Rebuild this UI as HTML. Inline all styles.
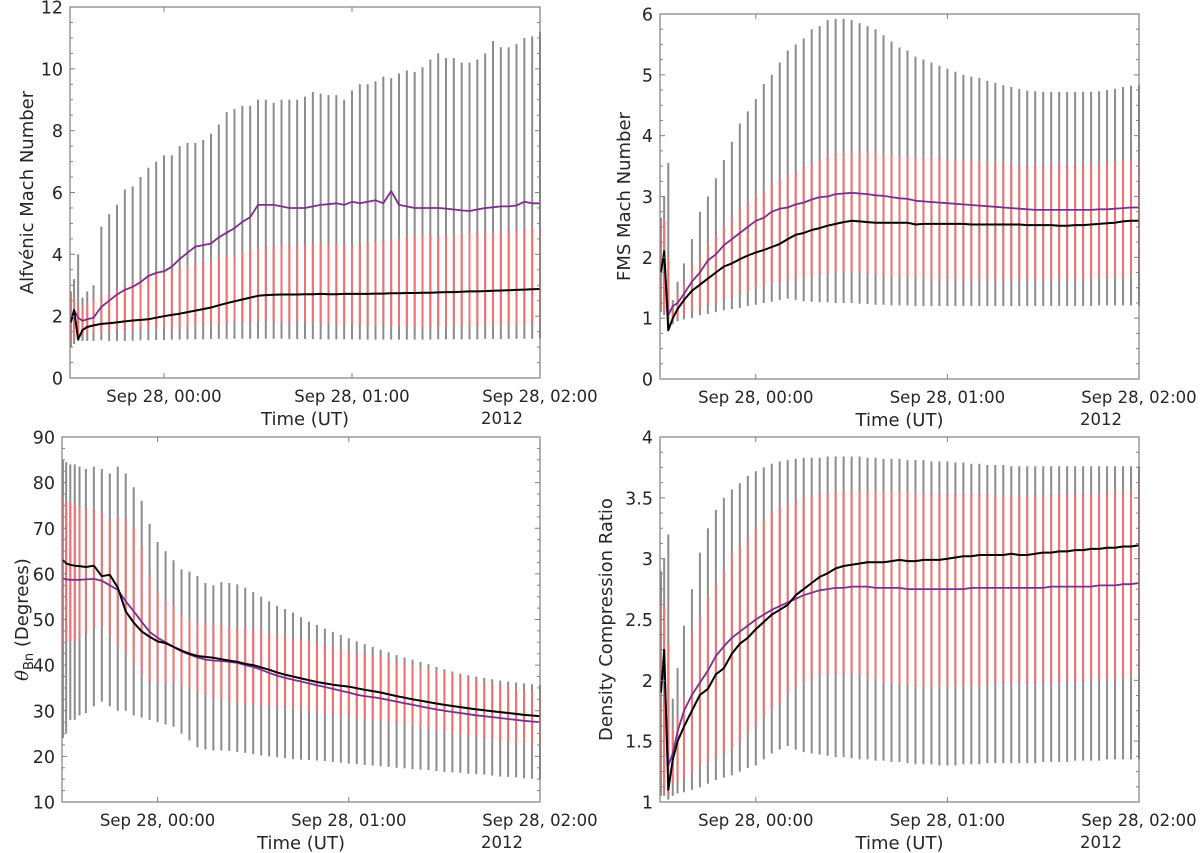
<!DOCTYPE html>
<html><head><meta charset="utf-8"><style>
html,body{margin:0;padding:0;background:#fff;}
svg{display:block;font-family:"DejaVu Sans","Liberation Sans",sans-serif;}
</style></head><body>
<svg id="fig" width="1200" height="853" viewBox="0 0 1200 853" xmlns="http://www.w3.org/2000/svg"></svg>
<script>
const minutes = [0.3,1.3,2.6,4,5.5,7.5,10,12.5,15,17.5,20,22.5,25,27.5,30,32.5,35,37.5,40,42.5,45,47.5,50,52.5,55,57.5,60,62.5,65,67.5,70,72.5,75,77.5,80,82.5,85,87.5,90,92.5,95,97.5,100,102.5,105,107.5,110,112.5,115,117.5,120,122.5,125,127.5,130,132.5,135,137.5,140,142.5,145,147.5,150];
const timeTickMinutes = [30,90,150];
const timeTickLabels = ["Sep 28, 00:00","Sep 28, 01:00","Sep 28, 02:00"];

// Alfvenic Mach number
const alfGrayHi = [2.8,3.2,4.0,2.6,2.8,3.0, 4.9,5.3,5.6,6.1,6.2,6.5,6.8,7.0,7.2,7.2,7.5,7.6,7.6,7.7,7.9,8.2,8.6,8.7,8.8,8.8,9.0, 9.0,8.9,9.0,9.0,9.0,9.1,9.25,9.2,9.15,9.15,9.0,9.3,9.5,9.5,9.6,9.75,9.7,9.85,9.95,9.9,10.05,10.3,10.5,10.35,10.35,10.2,10.2,10.3,10.5,10.9,10.7,10.7,10.8,11.0,11.05,11.2];
const alfRedHi = [2.8,2.6,2.3,2.3,2.4,2.5, 2.6,2.72,2.84,2.96,3.07,3.17,3.27,3.36,3.45,3.52,3.58,3.64,3.7,3.76,3.82,3.88,3.93,4.0,4.08,4.16,4.25, 4.25,4.27,4.28,4.3,4.31,4.32,4.33,4.35,4.34,4.33,4.32,4.3,4.33,4.36,4.4,4.45,4.48,4.52,4.56,4.6,4.6,4.6,4.6,4.62,4.64,4.66,4.68,4.7,4.71,4.72,4.74,4.75,4.77,4.8,4.83,4.85];
const alfRedLo = [1.15,1.2,1.3,1.4,1.45,1.48, 1.5,1.52,1.54,1.55,1.56,1.57,1.58,1.6,1.6,1.62,1.64,1.66,1.68,1.7,1.72,1.74,1.76,1.78,1.8,1.82,1.83, 1.82,1.81,1.8,1.8,1.79,1.78,1.77,1.76,1.75,1.74,1.73,1.72,1.71,1.7,1.69,1.68,1.67,1.66,1.66,1.65,1.65,1.65,1.66,1.66,1.67,1.67,1.68,1.68,1.69,1.69,1.7,1.7,1.7,1.7,1.71,1.72];
const alfGrayLo = [1.0,1.1,1.2,1.2,1.2,1.2, 1.22,1.2,1.2,1.2,1.21,1.22,1.22,1.23,1.23,1.24,1.24,1.25,1.25,1.25,1.26,1.26,1.26,1.27,1.27,1.27,1.27, 1.27,1.27,1.27,1.26,1.26,1.26,1.26,1.25,1.25,1.25,1.25,1.25,1.24,1.24,1.24,1.24,1.24,1.24,1.24,1.24,1.24,1.24,1.25,1.25,1.25,1.25,1.25,1.25,1.26,1.26,1.26,1.26,1.27,1.27,1.27,1.28];
const alfBlack = [1.8,2.2,1.25,1.55,1.65,1.7, 1.75,1.77,1.8,1.83,1.86,1.88,1.9,1.95,2.0,2.04,2.08,2.13,2.18,2.23,2.28,2.35,2.42,2.48,2.54,2.6,2.66, 2.68,2.69,2.7,2.7,2.7,2.71,2.71,2.72,2.71,2.71,2.72,2.72,2.72,2.72,2.73,2.73,2.74,2.74,2.75,2.75,2.76,2.76,2.77,2.78,2.78,2.79,2.8,2.8,2.81,2.82,2.83,2.84,2.85,2.86,2.87,2.88];
const alfPurple = [1.9,2.2,1.95,1.85,1.9,1.95, 2.3,2.5,2.7,2.85,2.95,3.1,3.3,3.4,3.45,3.6,3.85,4.05,4.25,4.3,4.35,4.55,4.7,4.85,5.05,5.2,5.6, 5.6,5.6,5.55,5.5,5.5,5.5,5.55,5.6,5.62,5.65,5.6,5.7,5.65,5.7,5.75,5.65,6.05,5.6,5.55,5.5,5.5,5.5,5.5,5.48,5.45,5.42,5.4,5.45,5.5,5.52,5.55,5.55,5.58,5.7,5.65,5.65];

// FMS Mach number
const fmsGrayHi = [2.65,3.0,3.55,1.3,1.6,1.9, 2.3,2.75,3.0,3.3,3.6,3.9,4.2,4.4,4.6,4.85,5.0,5.2,5.4,5.5,5.6,5.75,5.8,5.9,5.92,5.92,5.9, 5.85,5.8,5.75,5.65,5.55,5.45,5.4,5.3,5.25,5.2,5.15,5.1, 5.05,5.0,4.97,4.95,4.9,4.87,4.83,4.8,4.77,4.74,4.73,4.72,4.72,4.72,4.72,4.72,4.72,4.72,4.73,4.75,4.77,4.8,4.82,4.83];
const fmsRedHi = [2.6,2.6,2.0,1.2,1.4,1.55, 1.85,2.0,2.2,2.35,2.5,2.65,2.8,2.9,3.0,3.1,3.2,3.28,3.35,3.4,3.5,3.57,3.6,3.65,3.7,3.72,3.72, 3.72,3.72,3.71,3.7,3.68,3.67,3.66,3.65,3.64,3.63,3.62,3.61, 3.6,3.59,3.58,3.57,3.56,3.55,3.54,3.53,3.53,3.52,3.52,3.52,3.52,3.52,3.52,3.52,3.52,3.53,3.54,3.55,3.57,3.59,3.6,3.62];
const fmsRedLo = [1.15,1.1,0.85,1.0,1.0,1.05, 1.1,1.15,1.2,1.25,1.3,1.35,1.4,1.45,1.5,1.53,1.57,1.6,1.62,1.65,1.67,1.7,1.72,1.74,1.75,1.75,1.75, 1.73,1.72,1.7,1.69,1.68,1.67,1.66,1.65,1.65,1.64,1.64,1.64, 1.64,1.63,1.63,1.63,1.63,1.63,1.63,1.63,1.63,1.63,1.63,1.63,1.63,1.64,1.64,1.64,1.64,1.65,1.65,1.65,1.66,1.66,1.67,1.68];
const fmsGrayLo = [1.1,1.05,0.8,0.9,0.95,0.98, 1.0,1.05,1.07,1.1,1.13,1.15,1.17,1.2,1.22,1.25,1.27,1.3,1.32,1.3,1.28,1.27,1.26,1.26,1.25,1.25,1.25, 1.24,1.23,1.22,1.22,1.21,1.21,1.21,1.2,1.2,1.2,1.2,1.2, 1.2,1.2,1.2,1.2,1.2,1.2,1.2,1.2,1.2,1.2,1.2,1.2,1.2,1.2,1.2,1.2,1.2,1.2,1.21,1.21,1.21,1.21,1.21,1.21];
const fmsBlack = [1.75,2.1,0.8,1.0,1.15,1.3, 1.45,1.55,1.65,1.75,1.85,1.9,1.97,2.03,2.08,2.12,2.17,2.22,2.3,2.37,2.4,2.45,2.48,2.52,2.55,2.58,2.6, 2.59,2.58,2.57,2.57,2.57,2.57,2.57,2.54,2.55,2.55,2.55,2.55, 2.55,2.55,2.54,2.54,2.54,2.54,2.54,2.54,2.54,2.53,2.53,2.53,2.53,2.52,2.52,2.53,2.53,2.54,2.55,2.56,2.57,2.59,2.6,2.6];
const fmsPurple = [1.8,2.0,1.05,1.2,1.25,1.4, 1.6,1.75,1.95,2.05,2.2,2.3,2.4,2.5,2.6,2.65,2.75,2.8,2.82,2.87,2.9,2.95,2.99,3.0,3.04,3.05,3.06, 3.05,3.04,3.02,3.01,2.99,2.97,2.96,2.93,2.92,2.91,2.9,2.89, 2.88,2.87,2.86,2.85,2.84,2.83,2.82,2.81,2.8,2.79,2.78,2.78,2.78,2.78,2.78,2.78,2.78,2.78,2.79,2.79,2.8,2.81,2.82,2.82];

// theta_Bn
const thGrayHi = [85,84.5,84,84,83.5,83, 83.5,83,82,83.5,82,79,76,71,67,65,63,61,60.5,59.5,58,57.5,58.2,58,57.7,57,56, 55,54,53,52.3,51.5,50.5,49.5,48.8,48,47.3,46.6,45.9, 45.2,44.6,44,43.4,42.8,42.2,41.7,41.2,40.7,40.2,39.6,39.1,38.6,38.1,37.8,37.5,37.2,36.9,36.6,36.4,36.2,36.0,35.8,35.7];
const thRedHi = [77,76,75.5,75.5,75,74.5, 74,73.5,72,72.5,72,70,66,60,56,54,53,51,50,49.5,49,48.8,48.6,48.4,48.2,48,47.8, 47.5,47.2,46.8,46.4,46,45.6,45.2,44.8,44.4,44,43.6,43.2, 42.8,42.4,42,41.6,41.2,40.8,40.4,40,39.6,39.2,38.8,38.4,38,37.6,37.2,36.8,36.4,36,35.6,35.2,34.8,34.4,34,33.6];
const thRedLo = [44,45,45.5,45,46,47, 48,48.5,46.5,44,42.5,40,38,36.5,36,36,35.8,35.5,35,34,33.5,33,32.5,32,31.8,31.5,31.3, 31,30.8,30.6,30.4,30.2,30,29.8,29.6,29.4,29.2,29,28.8, 28.6,28.4,28.2,28,27.7,27.4,27.1,26.8,26.5,26.2,25.9,25.6,25.3,25,24.7,24.4,24.1,23.8,23.5,23.3,23.1,22.9,22.7,22.5];
const thGrayLo = [24,25,28,28,29,29.5, 31,32,31,30,30,29,28.5,28,27.5,27,26.5,25,23.5,22,21.5,21.3,21.3,21.2,21,20.8,20.5, 20.2,20,19.8,19.6,19.4,19.3,19.2,19.1,19,18.8,18.6,18.4, 18.3,18.1,18,17.8,17.7,17.5,17.4,17.2,17.1,17,16.8,16.6,16.5,16.4,16.2,16.1,16,15.8,15.6,15.5,15.4,15.2,15.1,15];
const thBlack = [63,62.3,62,61.8,61.7,61.5, 61.8,59.5,59.8,57,51.8,49.3,47.4,46.2,45.2,44.8,44,43.2,42.5,42,41.8,41.6,41.3,41,40.7,40.3,40, 39.5,39,38.4,37.9,37.5,37.1,36.7,36.3,36,35.7,35.5,35.3, 34.95,34.6,34.3,34,33.6,33.2,32.85,32.5,32.2,31.9,31.6,31.3,31.05,30.8,30.55,30.3,30.1,29.9,29.7,29.5,29.3,29.1,28.95,28.8];
const thPurple = [59,58.8,58.7,58.7,58.7,58.8, 58.9,58.5,57.5,56.5,54,51.8,49.5,47.3,46,45,44,43,42.3,41.7,41.2,41,40.9,40.7,40.5,40,39.6, 39,38.3,37.7,37.2,36.8,36.4,36,35.6,35.2,34.8,34.4,34, 33.5,33.2,33,32.7,32.35,32,31.65,31.3,30.95,30.6,30.3,30,29.75,29.5,29.25,29,28.8,28.6,28.4,28.2,28,27.8,27.65,27.5];

// Density compression ratio
const dcGrayHi = [2.9,3.0,3.2,1.85,2.1,2.45, 2.75,3.05,3.25,3.4,3.5,3.57,3.62,3.68,3.72,3.75,3.78,3.8,3.81,3.82,3.83,3.83,3.83,3.84,3.84,3.84,3.84, 3.84,3.83,3.83,3.82,3.82,3.82,3.81,3.81,3.81,3.8,3.8,3.8, 3.79,3.79,3.78,3.78,3.77,3.77,3.77,3.76,3.76,3.76,3.76,3.76,3.76,3.76,3.76,3.76,3.76,3.76,3.76,3.76,3.76,3.76,3.76,3.76];
const dcRedHi = [2.65,2.6,2.3,1.6,1.7,1.85, 2.39,2.53,2.69,2.8,2.9,3.05,3.1,3.18,3.25,3.32,3.38,3.42,3.45,3.48,3.5,3.52,3.54,3.55,3.55,3.56,3.56, 3.56,3.56,3.56,3.56,3.55,3.55,3.55,3.55,3.54,3.54,3.54,3.54, 3.53,3.53,3.53,3.53,3.53,3.52,3.52,3.52,3.52,3.52,3.52,3.52,3.53,3.53,3.53,3.53,3.54,3.54,3.54,3.55,3.55,3.55,3.56,3.56];
const dcRedLo = [1.2,1.1,1.05,1.15,1.18,1.2, 1.24,1.3,1.33,1.36,1.4,1.44,1.5,1.56,1.62,1.7,1.77,1.82,1.9,1.95,1.98,2.01,2.03,2.04,2.05,2.06,2.05, 2.04,2.02,2.0,1.99,1.98,1.97,1.96,1.95,1.95,1.95,1.95,1.95, 1.95,1.96,1.96,1.96,1.97,1.97,1.97,1.97,1.97,1.97,1.97,1.98,1.98,1.98,1.99,1.99,1.99,2.0,2.0,2.0,2.01,2.01,2.02,2.02];
const dcGrayLo = [1.05,1.05,1.02,1.05,1.07,1.08, 1.1,1.12,1.15,1.18,1.2,1.22,1.25,1.28,1.3,1.35,1.4,1.43,1.46,1.43,1.41,1.4,1.39,1.38,1.37,1.37,1.36, 1.35,1.35,1.34,1.34,1.33,1.33,1.32,1.31,1.31,1.31,1.3,1.3, 1.3,1.31,1.31,1.31,1.32,1.32,1.32,1.32,1.32,1.32,1.32,1.33,1.33,1.33,1.33,1.34,1.34,1.34,1.34,1.35,1.35,1.35,1.35,1.35];
const dcBlack = [1.9,2.25,1.1,1.35,1.5,1.62, 1.75,1.88,1.93,2.05,2.1,2.22,2.3,2.35,2.42,2.48,2.54,2.58,2.62,2.7,2.75,2.8,2.85,2.88,2.92,2.94,2.95, 2.96,2.97,2.97,2.97,2.98,2.99,2.98,2.98,2.99,2.99,2.99,3.0, 3.01,3.02,3.02,3.03,3.03,3.03,3.03,3.04,3.03,3.03,3.04,3.05,3.05,3.06,3.06,3.07,3.07,3.08,3.08,3.09,3.09,3.1,3.1,3.11];
const dcPurple = [1.95,2.1,1.3,1.4,1.58,1.75, 1.88,1.98,2.08,2.2,2.28,2.35,2.4,2.45,2.5,2.54,2.58,2.61,2.64,2.67,2.7,2.72,2.74,2.75,2.76,2.76,2.77, 2.77,2.77,2.76,2.76,2.76,2.76,2.75,2.75,2.75,2.75,2.75,2.75, 2.75,2.75,2.76,2.76,2.76,2.76,2.76,2.76,2.76,2.76,2.76,2.76,2.77,2.77,2.77,2.77,2.77,2.77,2.78,2.78,2.78,2.79,2.79,2.8];

const SVGNS = "http://www.w3.org/2000/svg";
const fig = document.getElementById('fig');
function mk(tag, attrs, parent) {
  const e = document.createElementNS(SVGNS, tag);
  for (const k in attrs) e.setAttribute(k, attrs[k]);
  (parent || fig).appendChild(e);
  return e;
}
function fmt(v) { return String(Math.round(v * 1000) / 1000); }

function drawPanel(cfg, gHi, rHi, rLo, gLo, blk, pur) {
  const g = mk('g', {});
  
  
  const xs = m => cfg.x0 + m / 150 * (cfg.x1 - cfg.x0);
  const ys = v => cfg.y1 - (v - cfg.ymin) / (cfg.ymax - cfg.ymin) * (cfg.y1 - cfg.y0);
  const n = Math.min(minutes.length, gHi.length, rHi.length, rLo.length, gLo.length, blk.length, pur.length);
  const gb = mk('g', {}, g);
  
  
  for (let i = 0; i < n; i++) {
    const x = xs(minutes[i]);
    const l = mk('line', {x1: x, x2: x, y1: ys(gHi[i]), y2: ys(gLo[i]), stroke: '#8c8c8c', 'stroke-width': 2}, gb);
    
    
  }
  const rb = mk('g', {}, g);
  
  
  for (let i = 0; i < n; i++) {
    const x = xs(minutes[i]);
    const l = mk('line', {x1: x, x2: x, y1: ys(rHi[i]), y2: ys(rLo[i]), stroke: '#f07272', 'stroke-width': 2}, rb);
    
    
  }
  let pp = '', pb = '';
  for (let i = 0; i < n; i++) {
    pp += (i ? 'L' : 'M') + xs(minutes[i]).toFixed(1) + ',' + ys(pur[i]).toFixed(1);
    pb += (i ? 'L' : 'M') + xs(minutes[i]).toFixed(1) + ',' + ys(blk[i]).toFixed(1);
  }
  const lp = mk('path', {d: pp, fill: 'none', stroke: '#7e2f8e', 'stroke-width': 1.8, 'stroke-linejoin': 'round'}, g);
  
  
  const lb = mk('path', {d: pb, fill: 'none', stroke: '#000', 'stroke-width': 2, 'stroke-linejoin': 'round'}, g);
  
  
  const fr = mk('rect', {x: cfg.x0, y: cfg.y0, width: cfg.x1 - cfg.x0, height: cfg.y1 - cfg.y0, fill: 'none', stroke: '#808080', 'stroke-width': 1.2}, g);
  
  
  const nMin = Math.round((cfg.ymax - cfg.ymin) / cfg.minor);
  for (let k = 0; k <= nMin; k++) {
    const v = cfg.ymin + k * cfg.minor;
    const y = ys(v);
    const major = Math.abs(v / cfg.major - Math.round(v / cfg.major)) < 1e-6;
    const len = major ? 5 : 3;
    mk('line', {x1: cfg.x0, x2: cfg.x0 + len, y1: y, y2: y, stroke: '#808080', 'stroke-width': 1}, g);
    mk('line', {x1: cfg.x1, x2: cfg.x1 - len, y1: y, y2: y, stroke: '#808080', 'stroke-width': 1}, g);
    if (major) {
      const t = mk('text', {x: cfg.x0 - 7, y: y + 6.5, 'text-anchor': 'end', 'font-size': 17.5, fill: '#262626'}, g);
      
      
      t.textContent = fmt(v);
    }
  }
  for (let k = 0; k < timeTickMinutes.length; k++) {
    const x = xs(timeTickMinutes[k]);
    mk('line', {x1: x, x2: x, y1: cfg.y1, y2: cfg.y1 - 5, stroke: '#808080', 'stroke-width': 1}, g);
    mk('line', {x1: x, x2: x, y1: cfg.y0, y2: cfg.y0 + 5, stroke: '#808080', 'stroke-width': 1}, g);
    const t = mk('text', {x: x, y: cfg.y1 + 24, 'text-anchor': 'middle', 'font-size': 16.5, fill: '#262626'}, g);
    
    
    t.textContent = timeTickLabels[k];
  }
  const yr = mk('text', {x: cfg.x1 - 59, y: cfg.y1 + 46, 'font-size': 16.5, fill: '#262626'}, g);
  
  
  yr.textContent = '2012';
  const xt = mk('text', {x: (cfg.x0 + cfg.x1) / 2, y: cfg.y1 + 47, 'text-anchor': 'middle', 'font-size': 18, fill: '#262626'}, g);
  
  
  xt.textContent = 'Time (UT)';
  const cy = (cfg.y0 + cfg.y1) / 2;
  const yt = mk('text', {x: cfg.ylx, y: cy, 'text-anchor': 'middle', 'font-size': 18, fill: '#262626', transform: 'rotate(-90 ' + cfg.ylx + ' ' + cy + ')'}, g);
  
  
  if (cfg.theta) {
    const a = mk('tspan', {'font-style': 'italic', 'font-family': '"DejaVu Serif", serif'}, yt); a.textContent = 'θ';
    const b = mk('tspan', {'font-size': 13, dy: 5}, yt); b.textContent = 'Bn';
    const c = mk('tspan', {dy: -5}, yt); c.textContent = ' (Degrees)';
  } else {
    yt.textContent = cfg.ytitle;
  }
}

drawPanel({name: 'alfvenic-mach-panel', x0: 70, x1: 540, y0: 7, y1: 378, ymin: 0, ymax: 12, major: 2, minor: 0.5, ylx: 33, ytitle: 'Alfvénic Mach Number'},
  alfGrayHi, alfRedHi, alfRedLo, alfGrayLo, alfBlack, alfPurple);
drawPanel({name: 'fms-mach-panel', x0: 660, x1: 1139, y0: 14, y1: 379, ymin: 0, ymax: 6, major: 1, minor: 0.25, ylx: 630, ytitle: 'FMS Mach Number'},
  fmsGrayHi, fmsRedHi, fmsRedLo, fmsGrayLo, fmsBlack, fmsPurple);
drawPanel({name: 'theta-bn-panel', x0: 62, x1: 540, y0: 437, y1: 802, ymin: 10, ymax: 90, major: 10, minor: 2.5, ylx: 28, theta: true},
  thGrayHi, thRedHi, thRedLo, thGrayLo, thBlack, thPurple);
drawPanel({name: 'density-ratio-panel', x0: 660, x1: 1139, y0: 437, y1: 802, ymin: 1, ymax: 4, major: 0.5, minor: 0.125, ylx: 612, ytitle: 'Density Compression Ratio'},
  dcGrayHi, dcRedHi, dcRedLo, dcGrayLo, dcBlack, dcPurple);
</script>
</body></html>
